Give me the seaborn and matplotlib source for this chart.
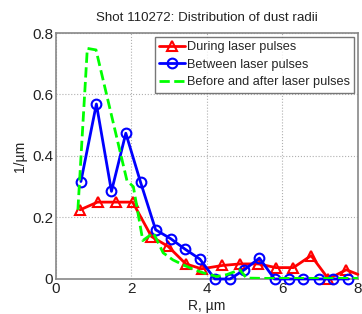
import matplotlib
matplotlib.use("Agg")
import matplotlib.pyplot as plt
import seaborn as sns
import pandas as pd

# radius bins (um) and distributions (1/um)
red_x = [0.64, 1.10, 1.58, 2.03, 2.53, 2.97, 3.44, 3.86, 4.41, 4.87, 5.36, 5.83, 6.29, 6.76, 7.22, 7.69, 8.0]
red_y = [0.225, 0.25, 0.25, 0.25, 0.138, 0.106, 0.049, 0.033, 0.044, 0.049, 0.049, 0.037, 0.037, 0.076, 0.0, 0.03, 0.015]

blue_x = [0.66, 1.07, 1.47, 1.85, 2.24, 2.64, 3.04, 3.42, 3.81, 4.21, 4.61, 4.99, 5.39,
          5.79, 6.18, 6.55, 6.97, 7.35, 7.75]
blue_y = [0.317, 0.569, 0.285, 0.474, 0.315, 0.16, 0.131, 0.097, 0.065, 0.0, 0.0, 0.03, 0.068,
          0.0, 0.0, 0.0, 0.0, 0.0, 0.0]

green_x = [0.58, 0.83, 1.06, 1.88, 2.05, 2.30, 2.58, 2.84, 3.10, 3.37, 3.63, 3.90, 4.26, 4.52,
           4.87, 5.05, 5.5, 6.0, 6.5, 7.0, 7.5, 8.0]
green_y = [0.225, 0.75, 0.745, 0.32, 0.30, 0.125, 0.15, 0.085, 0.062, 0.046, 0.032, 0.02, 0.008,
           0.014, 0.03, 0.003, 0.002, 0.002, 0.002, 0.002, 0.002, 0.002]

labels = ["During laser pulses", "Between laser pulses", "Before and after laser pulses"]
x_ticks = [0, 2, 4, 6, 8]
y_ticks = [0, 0.2, 0.4, 0.6, 0.8]

sns.set_style("white")
plt.rcParams['font.family'] = ['Liberation Sans Narrow', 'Liberation Sans', 'DejaVu Sans']

fig = plt.figure(figsize=(3.62, 3.14), dpi=100)
ax = fig.add_axes([0.1547, 0.1115, 0.834, 0.7834])

red = pd.DataFrame({"x": red_x, "y": red_y})
blue = pd.DataFrame({"x": blue_x, "y": blue_y})
green = pd.DataFrame({"x": green_x, "y": green_y})

sns.lineplot(data=red, x="x", y="y", ax=ax, color="#ff0000", lw=2, marker="^", ms=7,
             mfc="none", mec="#ff0000", mew=1.5, markevery=list(range(len(red_x) - 1)),
             label=labels[0], sort=False, clip_on=False, zorder=3)
sns.lineplot(data=blue, x="x", y="y", ax=ax, color="#0000ff", lw=2, marker="o", ms=7,
             mfc="none", mec="#0000ff", mew=1.5, label=labels[1], sort=False,
             clip_on=False, zorder=4)
sns.lineplot(data=green, x="x", y="y", ax=ax, color="#00ff00", lw=2, ls="--",
             label=labels[2], sort=False, zorder=5)

ax.set_xlim(0, 8)
ax.set_ylim(0, 0.8)
ax.set_xticks(x_ticks)
ax.set_yticks(y_ticks)
ax.set_xticklabels([str(t) for t in x_ticks])
ax.set_yticklabels(["0", "0.2", "0.4", "0.6", "0.8"])
ax.grid(True, ls=":", color="#b0b0b0", lw=0.8)
ax.tick_params(direction="in", length=4, labelsize=11, colors="#222222", pad=2)
for s in ax.spines.values():
    s.set_color("#888888")
    s.set_linewidth(1.2)

ax.set_title("Shot 110272: Distribution of dust radii", fontsize=9.6, color="#222222", pad=9)
ax.set_xlabel("R, µm", fontsize=10, color="#222222", labelpad=2)
ax.set_ylabel("1/µm", fontsize=10, color="#222222", labelpad=4)

leg = ax.legend(loc="upper right", fontsize=9.2, frameon=True, fancybox=False,
                handlelength=2.0, handletextpad=0.15, borderpad=0.35, labelspacing=0.42,
                borderaxespad=0.3)
leg.get_frame().set_edgecolor("#555555")
leg.get_frame().set_linewidth(1.0)

fig.savefig("out.png", dpi=100)
